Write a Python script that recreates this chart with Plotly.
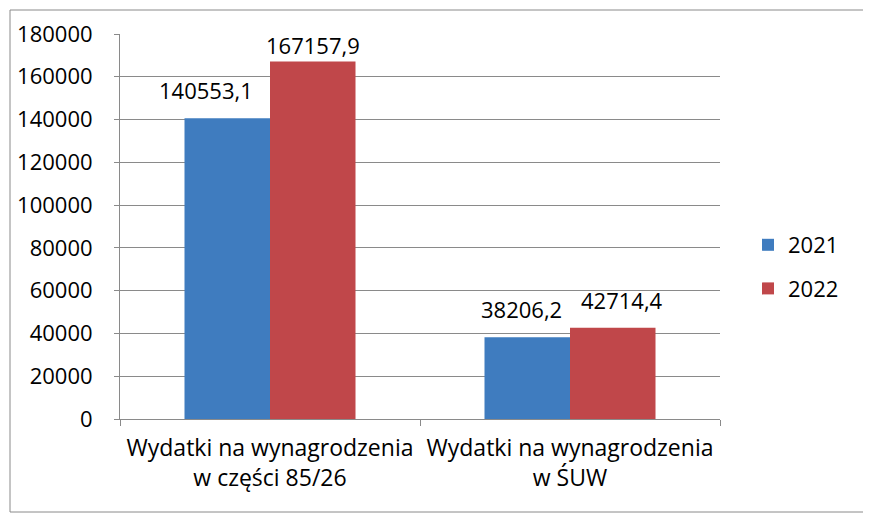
import plotly.graph_objects as go

categories = ["Wydatki na wynagrodzenia<br>w części 85/26", "Wydatki na wynagrodzenia<br>w ŚUW"]
values_2021 = [140553.1, 38206.2]
values_2022 = [167157.9, 42714.4]
series_names = ["2021", "2022"]
y_ticks = [0, 20000, 40000, 60000, 80000, 100000, 120000, 140000, 160000, 180000]

def fmt(v):
    return f"{v:.1f}".replace(".", ",")

# page offset (browser body margin) compensation
OFF = 8
W, H = 871, 517
L, R, T, B = 120, 151, 34, 98
pw, ph = W - L - R, H - T - B

def px_x(p):
    return (p - L) / pw

def px_y(p):
    return (H - B - p) / ph

font = "Open Sans, Liberation Sans, sans-serif"
colors = ["#3f7cbf", "#c0474a"]
series = [values_2021, values_2022]
# label nudges (px) to mimic manual label placement in the original
label_dx = [[-21, 0], [-6, 9]]
label_dy = [[19, 7], [19, 19]]
half = pw / len(categories) * (1 - 0.43) / 4

fig = go.Figure()
annotations = []
for si, (name, vals, col) in enumerate(zip(series_names, series, colors)):
    fig.add_trace(go.Bar(
        x=categories, y=vals, name=name, legendgroup=name,
        marker=dict(color=col, line=dict(width=0)),
    ))
    for ci, v in enumerate(vals):
        annotations.append(dict(
            x=categories[ci], y=v, xref="x", yref="y", text=fmt(v), showarrow=False,
            xanchor="center", yanchor="bottom",
            xshift=(-half if si == 0 else half) + label_dx[ci][si],
            yshift=label_dy[ci][si] - 8,
            font=dict(size=22, color="#000000", family=font),
        ))

fig.update_layout(
    width=W - OFF, height=H - OFF, barmode="group", bargap=0.43, bargroupgap=0,
    margin=dict(l=L - OFF, r=R, t=T - OFF, b=B, autoexpand=False),
    paper_bgcolor="white", plot_bgcolor="white",
    font=dict(family=font, size=22, color="#000000"),
    showlegend=True,
    legend=dict(x=px_x(748), y=px_y(267), xanchor="left", yanchor="middle",
                font=dict(size=22), tracegroupgap=12, itemwidth=30),
    annotations=annotations,
    shapes=[dict(type="rect", xref="paper", yref="paper",
                 x0=px_x(10), x1=px_x(865), y0=px_y(512), y1=px_y(10),
                 line=dict(color="#8a8a8a", width=1), fillcolor="rgba(0,0,0,0)", layer="below")],
)
fig.update_xaxes(
    type="category", showline=True, linecolor="#8a8a8a", linewidth=1,
    ticks="outside", tickson="boundaries", ticklen=6, tickcolor="#8a8a8a",
    tickfont=dict(size=23), showgrid=False, ticklabelstandoff=8,
)
fig.update_yaxes(
    range=[0, 180000], tickvals=y_ticks, ticktext=[str(v) for v in y_ticks],
    showline=True, linecolor="#8a8a8a", linewidth=1,
    ticks="outside", ticklen=5, tickcolor="#8a8a8a",
    showgrid=True, gridcolor="#8a8a8a", gridwidth=1,
    tickfont=dict(size=22), zeroline=False, ticklabelstandoff=17,
)
fig.write_html("out.html")
